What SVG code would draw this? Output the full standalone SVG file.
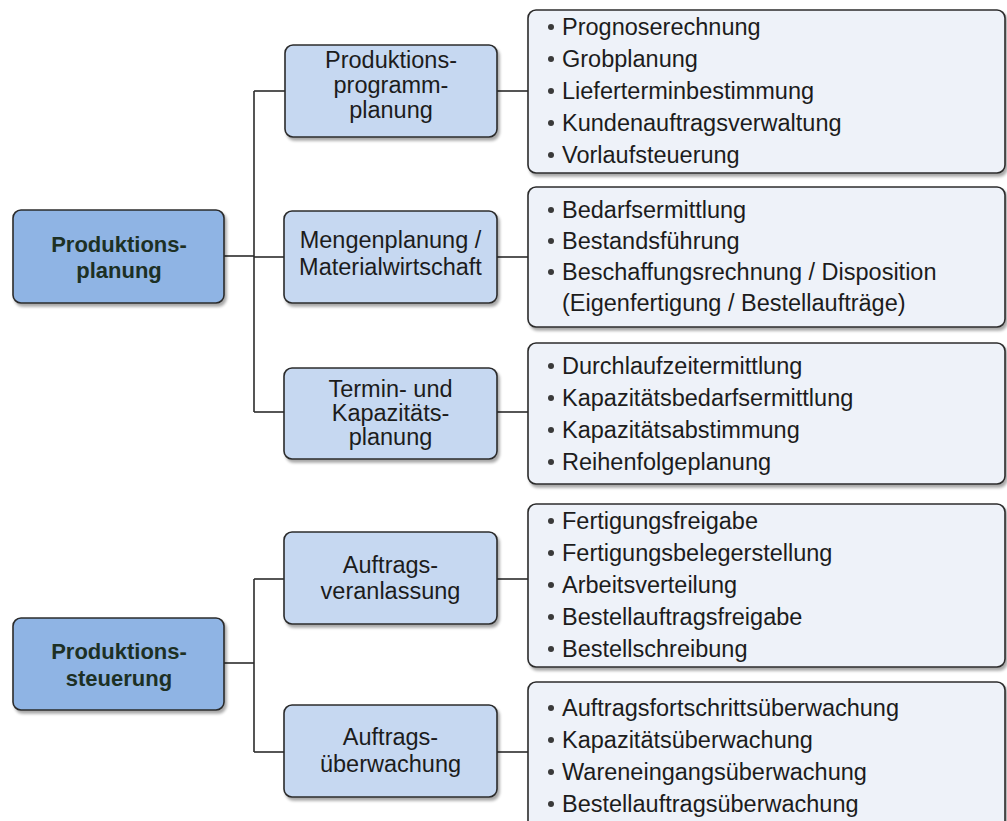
<svg xmlns="http://www.w3.org/2000/svg" width="1007" height="821" viewBox="0 0 1007 821">
  <defs>
    <filter id="shadow" x="-5%" y="-10%" width="115%" height="130%">
      <feGaussianBlur in="SourceAlpha" stdDeviation="1.6"/>
      <feOffset dx="1.5" dy="2.5" result="b"/>
      <feComponentTransfer><feFuncA type="linear" slope="0.35"/></feComponentTransfer>
      <feMerge><feMergeNode/><feMergeNode in="SourceGraphic"/></feMerge>
    </filter>
    <style>
      .box { stroke: #2b2b2b; stroke-width: 1.6; filter: url(#shadow); }
      .main { fill: #8fb4e4; }
      .sub { fill: #c6d8f1; }
      .list { fill: #eef2f9; }
      .line { stroke: #2b2b2b; stroke-width: 1.6; fill: none; }
      .t-main { font-family: "Liberation Sans", Arial, sans-serif; font-size: 22px; font-weight: bold; fill: #1d3024; text-anchor: middle; }
      .t-sub { font-family: "Liberation Sans", Arial, sans-serif; font-size: 23.5px; fill: #1c1c1c; text-anchor: middle; }
      .t-list { font-family: "Liberation Sans", Arial, sans-serif; font-size: 23.5px; fill: #1c1c1c; }
      .dot { fill: #3a3a3a; }
    </style>
  </defs>
  <rect width="1007" height="821" fill="#ffffff"/>

  <!-- connectors -->
  <g id="connectors">
    <!-- Produktionsplanung tree -->
    <path class="line" d="M224 256 H254"/>
    <path class="line" d="M254 91 V412"/>
    <path class="line" d="M254 91 H285"/>
    <path class="line" d="M254 257 H284"/>
    <path class="line" d="M254 412 H284"/>
    <path class="line" d="M497 91 H528"/>
    <path class="line" d="M497 257 H528"/>
    <path class="line" d="M497 412 H528"/>
    <!-- Produktionssteuerung tree -->
    <path class="line" d="M224 663 H254"/>
    <path class="line" d="M254 579 V752"/>
    <path class="line" d="M254 579 H284"/>
    <path class="line" d="M254 752 H284"/>
    <path class="line" d="M497 579 H528"/>
    <path class="line" d="M497 752 H528"/>
  </g>

  <!-- root nodes -->
  <g id="produktionsplanung">
    <rect class="box main" x="13" y="210" width="211" height="93" rx="8"/>
    <text class="t-main" x="119" y="252">Produktions-</text>
    <text class="t-main" x="119" y="278">planung</text>
  </g>
  <g id="produktionssteuerung">
    <rect class="box main" x="13" y="618" width="211" height="92" rx="8"/>
    <text class="t-main" x="119" y="659">Produktions-</text>
    <text class="t-main" x="119" y="686">steuerung</text>
  </g>

  <!-- second level nodes -->
  <g id="programmplanung">
    <rect class="box sub" x="285" y="45" width="212" height="92" rx="8"/>
    <text class="t-sub" x="391" y="68">Produktions-</text>
    <text class="t-sub" x="391" y="93">programm-</text>
    <text class="t-sub" x="391" y="118">planung</text>
  </g>
  <g id="mengenplanung">
    <rect class="box sub" x="284" y="211" width="213" height="92" rx="8"/>
    <text class="t-sub" x="390.5" y="248">Mengenplanung /</text>
    <text class="t-sub" x="390.5" y="275">Materialwirtschaft</text>
  </g>
  <g id="terminplanung">
    <rect class="box sub" x="284" y="368" width="213" height="91" rx="8"/>
    <text class="t-sub" x="390.5" y="397">Termin- und</text>
    <text class="t-sub" x="390.5" y="421">Kapazitäts-</text>
    <text class="t-sub" x="390.5" y="445">planung</text>
  </g>
  <g id="auftragsveranlassung">
    <rect class="box sub" x="284" y="532" width="213" height="92" rx="8"/>
    <text class="t-sub" x="390.5" y="573">Auftrags-</text>
    <text class="t-sub" x="390.5" y="599">veranlassung</text>
  </g>
  <g id="auftragsueberwachung">
    <rect class="box sub" x="284" y="705" width="213" height="92" rx="8"/>
    <text class="t-sub" x="390.5" y="745">Auftrags-</text>
    <text class="t-sub" x="390.5" y="772">überwachung</text>
  </g>

  <!-- task lists -->
  <g id="liste-programmplanung">
    <rect class="box list" x="528" y="10" width="477" height="163" rx="8"/>
    <circle class="dot" cx="551" cy="27" r="3"/>
    <circle class="dot" cx="551" cy="59" r="3"/>
    <circle class="dot" cx="551" cy="91" r="3"/>
    <circle class="dot" cx="551" cy="123" r="3"/>
    <circle class="dot" cx="551" cy="155" r="3"/>
    <text class="t-list" x="562" y="35">Prognoserechnung</text>
    <text class="t-list" x="562" y="67">Grobplanung</text>
    <text class="t-list" x="562" y="99">Lieferterminbestimmung</text>
    <text class="t-list" x="562" y="131">Kundenauftragsverwaltung</text>
    <text class="t-list" x="562" y="163">Vorlaufsteuerung</text>
  </g>
  <g id="liste-mengenplanung">
    <rect class="box list" x="528" y="187" width="477" height="140" rx="8"/>
    <circle class="dot" cx="551" cy="210" r="3"/>
    <circle class="dot" cx="551" cy="241" r="3"/>
    <circle class="dot" cx="551" cy="272" r="3"/>
    <text class="t-list" x="562" y="218">Bedarfsermittlung</text>
    <text class="t-list" x="562" y="249">Bestandsführung</text>
    <text class="t-list" x="562" y="280">Beschaffungsrechnung / Disposition</text>
    <text class="t-list" x="562" y="311">(Eigenfertigung / Bestellaufträge)</text>
  </g>
  <g id="liste-terminplanung">
    <rect class="box list" x="528" y="343" width="477" height="141" rx="8"/>
    <circle class="dot" cx="551" cy="366" r="3"/>
    <circle class="dot" cx="551" cy="398" r="3"/>
    <circle class="dot" cx="551" cy="430" r="3"/>
    <circle class="dot" cx="551" cy="462" r="3"/>
    <text class="t-list" x="562" y="374">Durchlaufzeitermittlung</text>
    <text class="t-list" x="562" y="406">Kapazitätsbedarfsermittlung</text>
    <text class="t-list" x="562" y="438">Kapazitätsabstimmung</text>
    <text class="t-list" x="562" y="470">Reihenfolgeplanung</text>
  </g>
  <g id="liste-auftragsveranlassung">
    <rect class="box list" x="528" y="504" width="477" height="163" rx="8"/>
    <circle class="dot" cx="551" cy="521" r="3"/>
    <circle class="dot" cx="551" cy="553" r="3"/>
    <circle class="dot" cx="551" cy="585" r="3"/>
    <circle class="dot" cx="551" cy="617" r="3"/>
    <circle class="dot" cx="551" cy="649" r="3"/>
    <text class="t-list" x="562" y="529">Fertigungsfreigabe</text>
    <text class="t-list" x="562" y="561">Fertigungsbelegerstellung</text>
    <text class="t-list" x="562" y="593">Arbeitsverteilung</text>
    <text class="t-list" x="562" y="625">Bestellauftragsfreigabe</text>
    <text class="t-list" x="562" y="657">Bestellschreibung</text>
  </g>
  <g id="liste-auftragsueberwachung">
    <rect class="box list" x="528" y="682" width="477" height="160" rx="8"/>
    <circle class="dot" cx="551" cy="708" r="3"/>
    <circle class="dot" cx="551" cy="740" r="3"/>
    <circle class="dot" cx="551" cy="772" r="3"/>
    <circle class="dot" cx="551" cy="804" r="3"/>
    <text class="t-list" x="562" y="716">Auftragsfortschrittsüberwachung</text>
    <text class="t-list" x="562" y="748">Kapazitätsüberwachung</text>
    <text class="t-list" x="562" y="780">Wareneingangsüberwachung</text>
    <text class="t-list" x="562" y="812">Bestellauftragsüberwachung</text>
  </g>
</svg>
